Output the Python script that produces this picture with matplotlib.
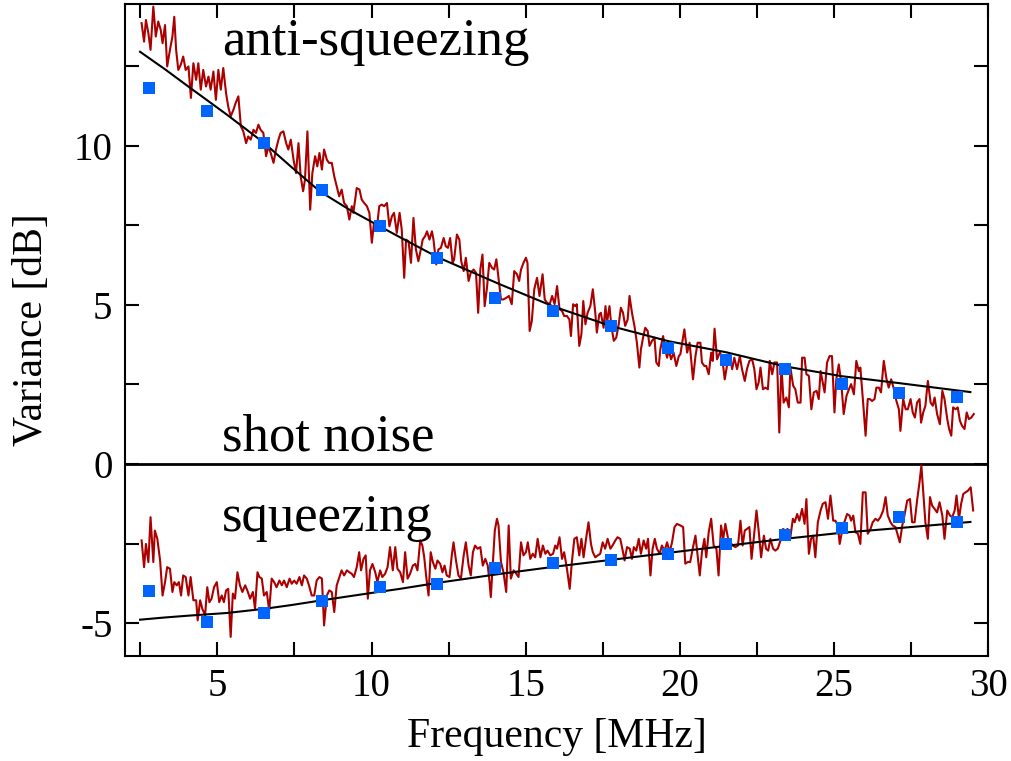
import numpy as np
import matplotlib
matplotlib.use('Agg')
import matplotlib.pyplot as plt
from matplotlib.ticker import MultipleLocator

plt.rcParams['font.family'] = ['Liberation Serif', 'DejaVu Serif']
plt.rcParams['axes.unicode_minus'] = False

anti_freq = [2.54, 2.62, 2.68, 2.76, 2.83, 2.92, 3.00, 3.08, 3.16, 3.22, 3.30, 3.37, 3.46, 3.54, 3.60,
             3.66, 3.73, 3.81, 3.89, 3.97, 4.06, 4.14, 4.22, 4.31, 4.38, 4.46, 4.54, 4.63, 4.71, 4.78,
             4.87, 4.95, 5.03, 5.11, 5.19, 5.28, 5.35, 5.43, 5.52, 5.59, 5.68, 5.76, 5.84, 5.93, 6.00,
             6.08, 6.17, 6.25, 6.33, 6.40, 6.49, 6.58, 6.65, 6.73, 6.82, 6.90, 6.98, 7.05, 7.14, 7.23,
             7.30, 7.38, 7.47, 7.55, 7.63, 7.70, 7.78, 7.84, 7.92, 8.01, 8.08, 8.17, 8.24, 8.31, 8.39,
             8.46, 8.55, 8.62, 8.71, 8.79, 8.87, 8.95, 9.03, 9.11, 9.20, 9.28, 9.36, 9.41, 9.52, 9.61,
             9.68, 9.76, 9.85, 9.93, 10.01, 10.08, 10.17, 10.25, 10.33, 10.41, 10.50, 10.58, 10.66,
             10.73, 10.82, 10.91,
             10.98, 11.06, 11.12, 11.20, 11.28, 11.36, 11.44, 11.52, 11.60, 11.66, 11.74, 11.80, 11.88,
             11.96, 12.01, 12.10, 12.17, 12.25, 12.34, 12.41, 12.48, 12.55, 12.63, 12.68, 12.77, 12.85,
             12.91, 12.99, 13.06, 13.15, 13.22, 13.31, 13.39, 13.46, 13.53, 13.60, 13.67, 13.74, 13.82,
             13.91, 13.98, 14.05, 14.12, 14.20, 14.28, 14.37, 14.46, 14.55, 14.63, 14.72, 14.79, 14.85,
             14.93, 15.01, 15.06, 15.13, 15.20, 15.28, 15.37, 15.45, 15.55, 15.62, 15.69, 15.78, 15.86,
             15.94, 16.02, 16.10, 16.18, 16.25, 16.34, 16.42, 16.47, 16.54, 16.61, 16.66, 16.74, 16.81,
             16.87, 16.94, 17.01, 17.10, 17.18, 17.26, 17.31, 17.39, 17.44, 17.53, 17.59, 17.64, 17.72,
             17.78, 17.86, 17.94, 18.02, 18.09, 18.16, 18.23, 18.31, 18.37, 18.45, 18.53, 18.61, 18.69,
             18.74, 18.81, 18.88, 18.96, 19.02, 19.10, 19.18, 19.24, 19.32, 19.37, 19.46, 19.53, 19.59,
             19.64, 19.72, 19.80, 19.89, 19.97,
             20.02, 20.15, 20.24, 20.32, 20.43, 20.51, 20.58, 20.67, 20.72, 20.80, 20.86, 20.94, 21.02,
             21.07, 21.13, 21.21, 21.30, 21.37, 21.46, 21.54, 21.62, 21.70, 21.77, 21.86, 21.95, 22.02,
             22.11, 22.18, 22.26, 22.35, 22.42, 22.49, 22.56, 22.62, 22.70, 22.78, 22.86, 22.92, 23.00,
             23.07, 23.16, 23.23, 23.30, 23.37, 23.46, 23.54, 23.59, 23.68, 23.75, 23.83, 23.92, 23.97,
             24.05, 24.11, 24.19, 24.27, 24.35, 24.44, 24.51, 24.57, 24.62, 24.70, 24.78, 24.86, 24.94,
             25.02, 25.08, 25.16, 25.24, 25.32, 25.41, 25.49, 25.56, 25.65, 25.73, 25.81, 25.86, 25.95,
             26.03, 26.10, 26.17, 26.24, 26.32, 26.38, 26.46, 26.53, 26.62, 26.71, 26.78, 26.86, 26.95,
             27.03, 27.11, 27.16, 27.25, 27.33, 27.40, 27.49, 27.56, 27.63, 27.70, 27.78, 27.83, 27.90,
             27.97, 28.05, 28.14, 28.21, 28.27, 28.35, 28.44, 28.52, 28.59, 28.68, 28.74, 28.81, 28.87,
             28.95, 29.02, 29.09, 29.16, 29.24, 29.31, 29.38, 29.46, 29.54]
anti_var = [13.85, 13.27, 13.95, 13.53, 13.01, 14.37, 13.43, 13.90, 13.64, 13.22, 13.79, 12.49, 13.01,
            13.43, 14.05, 13.01, 12.38, 12.54, 12.80, 12.38, 12.49, 11.50, 12.59, 12.07, 12.59, 11.76,
            12.38, 11.86, 12.17, 11.76, 12.33, 11.44, 12.38, 11.76, 12.44, 11.65, 11.23, 10.92, 11.13,
            11.34, 11.55, 10.61, 10.45, 10.08, 10.29, 10.19, 10.50, 10.40, 10.66, 10.50, 10.40, 9.67,
            9.98, 9.77, 9.46, 9.88, 10.19, 10.40, 10.45, 10.08, 9.88, 10.19, 9.56, 9.14, 10.08, 9.04,
            8.57, 8.93, 10.45, 7.99, 9.14, 9.67, 9.35, 9.77, 9.25, 9.88, 9.56, 9.46, 9.46, 9.04, 8.73,
            8.41, 8.62, 8.20, 8.10, 7.68, 8.10, 7.89, 8.67, 8.62, 8.31, 8.20, 8.10, 7.89, 6.95, 7.58,
            7.37, 8.10, 8.15, 8.10, 8.20, 7.47, 7.78, 7.89, 7.26, 7.89,
            7.37, 5.85, 7.05, 7.00, 6.32, 7.73, 6.74, 6.37, 6.74, 7.05, 7.16, 7.31, 7.05, 7.31, 7.05,
            6.27, 6.74, 6.79, 7.10, 6.84, 6.79, 7.10, 6.32, 6.43, 7.21, 7.05, 6.37, 6.06, 6.48, 5.75,
            6.01, 6.11, 6.01, 4.75, 6.11, 6.58, 4.96, 5.49, 6.32, 6.16, 6.11, 6.43, 5.85, 5.17, 5.17,
            5.22, 5.28, 5.02, 6.06, 5.96, 5.75, 6.11, 6.32, 6.48, 6.32, 4.18, 4.49, 5.49, 5.85, 5.28,
            5.96, 5.17, 5.07, 5.02, 5.28, 5.02, 5.59, 4.86, 4.81, 4.65, 4.65, 4.54, 4.02, 5.02, 4.96,
            5.02, 3.71, 4.08, 5.12, 4.39, 4.75, 4.96, 5.49, 4.75, 4.13, 4.70, 4.75, 4.28, 4.96, 4.44,
            4.96, 4.34, 3.87, 3.97, 4.39, 4.91, 4.75, 4.34, 4.54, 5.28, 4.75, 4.34, 3.81, 3.03, 3.60,
            3.97, 4.28, 4.18, 3.71, 3.87, 3.97, 3.19, 3.08, 3.60, 4.02, 3.60, 3.34, 3.60, 3.29, 3.50,
            3.08, 3.39,
            3.45, 4.23, 3.50, 3.81, 2.66, 3.39, 3.81, 3.81, 3.19, 3.08, 3.08, 2.82, 3.50, 3.24, 4.25,
            3.29, 3.50, 3.39, 2.66, 3.13, 3.45, 2.98, 3.34, 2.98, 3.39, 2.98, 2.61, 2.98, 3.24, 3.29,
            2.98, 2.35, 2.56, 3.03, 2.35, 2.40, 2.35, 3.24, 2.82, 3.19, 3.19, 0.99, 3.08, 1.93, 2.09,
            1.78, 3.03, 2.46, 2.35, 1.93, 1.93, 3.34, 3.34, 2.82, 2.77, 1.72, 2.25, 2.30, 2.04, 2.92,
            2.66, 2.25, 3.19, 3.39, 3.39, 1.62, 2.66, 3.13, 2.56, 1.57, 2.14, 2.35, 2.51, 2.19, 3.24,
            2.92, 3.03, 1.93, 0.89, 2.04, 2.04, 1.98, 2.04, 2.40, 2.40, 2.25, 3.24, 2.66, 2.40, 2.66,
            2.35, 1.98, 1.72, 1.04, 2.04, 1.72, 1.72, 2.04, 1.62, 1.46, 1.93, 2.04, 1.30, 1.62, 1.83,
            2.61, 1.93, 1.83, 2.09, 1.57, 1.25, 2.30, 2.04, 1.41, 1.10, 0.89, 1.78, 1.72, 1.78, 1.36,
            1.20, 1.10, 1.62, 1.41, 1.46, 1.57]

sq_freq = [2.54, 2.62, 2.68, 2.76, 2.83, 2.92, 2.97, 3.05, 3.14, 3.22, 3.30, 3.37, 3.46, 3.54, 3.60,
           3.68, 3.75, 3.82, 3.89, 3.97, 4.06, 4.13, 4.22, 4.31, 4.36, 4.44, 4.51, 4.60, 4.67, 4.74,
           4.81, 4.89, 4.98, 5.06, 5.14, 5.21, 5.28, 5.35, 5.43, 5.50, 5.57, 5.65, 5.73, 5.81, 5.90,
           5.97, 6.06, 6.15, 6.22, 6.30, 6.36, 6.44, 6.51, 6.60, 6.68, 6.76, 6.84, 6.92, 7.01, 7.09,
           7.16, 7.25, 7.34, 7.41, 7.49, 7.57, 7.66, 7.74, 7.81, 7.90, 7.97, 8.06, 8.14, 8.22, 8.31,
           8.39, 8.46, 8.55, 8.63, 8.71, 8.79, 8.87, 8.96, 9.03, 9.11, 9.20, 9.28, 9.36, 9.43, 9.52,
           9.60, 9.66, 9.74, 9.81, 9.88, 9.95, 10.03, 10.12, 10.19, 10.28, 10.35, 10.44, 10.52, 10.60,
           10.69, 10.77, 10.84,
           10.93, 11.02, 11.09, 11.17, 11.25, 11.34, 11.42, 11.49, 11.58, 11.65, 11.71, 11.77, 11.85,
           11.92, 11.99, 12.07, 12.14, 12.23, 12.30, 12.37, 12.44, 12.53, 12.61, 12.66, 12.74, 12.82,
           12.90, 12.99, 13.06, 13.15, 13.22, 13.29, 13.36, 13.44, 13.53, 13.61, 13.69, 13.77, 13.83,
           13.87, 13.94, 14.00, 14.07, 14.12, 14.20, 14.28, 14.37, 14.45, 14.52, 14.61, 14.70, 14.77,
           14.85, 14.93, 15.01, 15.07, 15.15, 15.23, 15.31, 15.39, 15.48, 15.56, 15.64, 15.71, 15.80,
           15.89, 15.96, 16.02, 16.10, 16.18, 16.25, 16.34, 16.43, 16.50, 16.58, 16.66, 16.74, 16.81,
           16.88, 16.96, 17.04, 17.12, 17.18, 17.26, 17.34, 17.42, 17.50, 17.58, 17.66, 17.75, 17.82,
           17.91, 17.98, 18.07, 18.15, 18.21, 18.29, 18.38, 18.45, 18.51, 18.59, 18.67, 18.74, 18.83,
           18.91, 18.97, 19.05, 19.12, 19.19, 19.26, 19.35, 19.42, 19.51, 19.59, 19.67, 19.75, 19.83,
           19.91,
           20.02, 20.11, 20.18, 20.26, 20.34, 20.42, 20.51, 20.58, 20.65, 20.72, 20.80, 20.86, 20.94,
           21.02, 21.10, 21.19, 21.26, 21.34, 21.41, 21.48, 21.57, 21.64, 21.72, 21.81, 21.89, 21.97,
           22.04, 22.11, 22.18, 22.26, 22.33, 22.40, 22.49, 22.56, 22.64, 22.73, 22.80, 22.87, 22.94,
           23.03, 23.10, 23.18, 23.27, 23.35, 23.43, 23.50, 23.59, 23.67, 23.73, 23.81, 23.88, 23.97,
           24.05, 24.11, 24.19, 24.26, 24.33, 24.40, 24.48, 24.57, 24.64, 24.73, 24.81, 24.89, 24.98,
           25.05, 25.13, 25.19, 25.27, 25.34, 25.43, 25.51, 25.56, 25.63, 25.70, 25.78, 25.86, 25.94,
           26.03, 26.10, 26.19, 26.26, 26.35, 26.43, 26.51, 26.60, 26.68, 26.75, 26.84, 26.91, 27.00,
           27.08, 27.14, 27.22, 27.29, 27.38, 27.47, 27.54, 27.62, 27.70, 27.78, 27.84, 27.90, 27.97,
           28.05, 28.12, 28.19, 28.27, 28.35, 28.43, 28.52, 28.59, 28.68, 28.77, 28.84, 28.92, 28.98,
           29.06, 29.13, 29.20, 29.27, 29.35, 29.44, 29.52]
sq_var = [-2.40, -3.24, -2.51, -3.08, -1.67, -3.08, -2.09, -2.35, -3.03, -4.13, -3.71, -3.24, -3.29,
          -4.02, -3.71, -3.81, -3.71, -4.13, -3.50, -3.55, -4.13, -3.55, -4.28, -4.28, -4.91, -4.28,
          -4.55, -4.75, -3.87, -4.34, -4.23, -3.87, -3.71, -4.34, -4.13, -4.34, -3.97, -3.92, -5.43,
          -4.07, -4.23, -3.40, -3.81, -4.02, -3.81, -3.97, -4.23, -4.02, -4.55, -3.40, -3.55, -3.60,
          -4.13, -4.02, -4.60, -3.60, -3.71, -3.87, -3.66, -3.81, -3.66, -3.87, -3.60, -3.76, -3.66,
          -3.76, -3.55, -3.81, -3.50, -3.60, -3.81, -4.13, -4.13, -3.66, -3.55, -3.60, -5.07, -4.13,
          -3.97, -4.02, -4.65, -3.81, -3.55, -3.34, -3.50, -3.34, -3.40, -3.45, -3.55, -3.24, -2.77,
          -3.34, -2.98, -2.87, -4.23, -3.34, -3.14, -3.40, -3.71, -3.34, -3.55, -3.45, -3.24, -2.61,
          -3.34, -2.61, -3.29,
          -3.40, -3.71, -2.77, -3.60, -3.45, -3.19, -3.14, -3.34, -2.40, -2.56, -2.93, -3.50, -4.13,
          -2.77, -3.08, -3.29, -3.03, -3.14, -3.40, -3.19, -3.50, -3.55, -2.82, -2.46, -3.03, -3.50,
          -3.60, -2.87, -2.46, -3.19, -3.50, -2.77, -2.56, -2.66, -2.61, -3.19, -2.98, -3.19, -3.71,
          -4.18, -3.08, -2.09, -1.72, -1.93, -3.08, -3.40, -4.02, -1.93, -3.60, -3.34, -3.45, -3.55,
          -2.46, -2.87, -2.77, -2.46, -2.98, -2.82, -2.93, -2.35, -2.93, -2.56, -2.82, -2.72, -2.87,
          -2.82, -2.56, -2.66, -2.30, -2.98, -2.77, -3.29, -3.92, -3.08, -2.35, -2.30, -2.87, -2.35,
          -2.93, -2.35, -1.83, -2.51, -2.77, -2.93, -2.87, -2.82, -2.46, -2.66, -2.35, -2.66, -2.56,
          -2.40, -2.30, -2.35, -2.72, -3.03, -2.61, -2.66, -2.98, -2.61, -2.72, -2.35, -2.82, -2.40,
          -2.66, -2.35, -3.50, -2.66, -2.35, -2.66, -2.82, -2.56, -2.72, -2.46, -2.77, -2.46, -1.98,
          -1.88,
          -1.93, -1.98, -3.13, -3.08, -3.08, -2.66, -2.25, -2.87, -3.50, -2.77, -2.35, -2.93, -2.14,
          -1.72, -2.56, -2.66, -3.50, -1.93, -2.35, -1.88, -2.35, -2.46, -2.56, -2.61, -2.56, -1.78,
          -2.56, -2.09, -2.04, -1.98, -2.98, -2.35, -1.46, -2.09, -2.93, -2.25, -2.66, -2.72, -2.35,
          -2.66, -2.72, -2.66, -2.40, -2.04, -2.09, -2.04, -2.30, -1.72, -1.83, -1.57, -1.78, -1.41,
          -1.88, -1.10, -2.82, -2.35, -2.25, -2.93, -1.83, -1.46, -1.25, -1.20, -1.72, -0.99, -1.78,
          -1.78, -1.93, -2.51, -2.09, -1.83, -1.57, -1.62, -1.78, -1.62, -2.14, -2.19, -2.51, -0.89,
          -0.89, -2.19, -2.04, -1.83, -1.72, -1.78, -1.67, -1.46, -1.04, -1.62, -1.83, -1.93, -1.98,
          -2.25, -2.46, -1.93, -1.62, -1.15, -1.10, -1.83, -1.83, -1.15, -0.57, -0.05, -0.89, -1.83,
          -2.35, -1.04, -1.31, -1.41, -1.52, -1.20, -1.62, -2.35, -1.46, -1.62, -1.67, -1.46, -0.99,
          -1.72, -1.25, -0.94, -0.89, -0.84, -0.73, -1.46]

# ---- averaged points (blue squares) ----
pt_freq = [2.78, 4.66, 6.51, 8.40, 10.28, 12.13, 14.01, 15.90, 17.78, 19.63, 21.51, 23.40, 25.25,
           27.13, 29.00]
pt_anti = [11.82, 11.10, 10.09, 8.62, 7.49, 6.46, 5.20, 4.80, 4.33, 3.64, 3.26, 3.00, 2.50, 2.23, 2.10]
pt_sq = [-3.98, -4.95, -4.67, -4.29, -3.86, -3.76, -3.26, -3.10, -3.01, -2.82, -2.51, -2.23, -2.01,
         -1.66, -1.82]

# ---- theory curves (black) ----
fit_freq = [2.49, 3.30, 4.11, 5.30, 6.51, 7.40, 8.33, 9.30, 10.28, 10.93, 12.16, 14.18, 15.90, 17.78,
            19.63, 21.51, 23.40, 25.25, 27.13, 29.43]
fit_anti = [12.95, 12.40, 11.82, 10.98, 10.09, 9.33, 8.56, 7.98, 7.46, 7.12, 6.49, 5.64, 4.95, 4.33,
            3.86, 3.51, 3.07, 2.76, 2.54, 2.26]
fit_sq = [-4.89, -4.82, -4.76, -4.68, -4.55, -4.43, -4.29, -4.15, -4.01, -3.92, -3.73, -3.45, -3.23,
          -3.01, -2.79, -2.57, -2.35, -2.16, -2.01, -1.82]

RED = '#aa0000'
BLUE = '#0064ff'

fig = plt.figure(figsize=(10.11, 7.61), dpi=100)
ax = fig.add_axes([0.1236, 0.138, 0.8536, 0.8567])

ax.axhline(0, color='black', lw=2.0, zorder=1)
ax.plot(anti_freq, anti_var, color=RED, lw=1.5, zorder=2)
ax.plot(sq_freq, sq_var, color=RED, lw=1.5, zorder=2)
ax.plot(fit_freq, fit_anti, color='black', lw=1.5, zorder=3)
ax.plot(fit_freq, fit_sq, color='black', lw=1.5, zorder=3)
ax.plot(pt_freq, pt_anti, 's', color=BLUE, ms=9.3, mew=0, zorder=4)
ax.plot(pt_freq, pt_sq, 's', color=BLUE, ms=9.3, mew=0, zorder=4)

ax.text(5.15, 12.85, 'anti-squeezing', fontsize=38, ha='left', va='baseline')
ax.text(5.15, 0.41, 'shot noise', fontsize=38, ha='left', va='baseline')
ax.text(5.15, -2.1, 'squeezing', fontsize=38, ha='left', va='baseline')

ax.set_xlim(2, 30)
ax.set_ylim(-6.03, 14.45)
ax.xaxis.set_major_locator(MultipleLocator(5))
ax.xaxis.set_minor_locator(MultipleLocator(2.5))
ax.yaxis.set_major_locator(MultipleLocator(5))
ax.yaxis.set_minor_locator(MultipleLocator(2.5))
ax.tick_params(which='both', direction='in', top=True, right=True, length=10, width=1.5,
               labelsize=28)
ax.tick_params(axis='x', pad=9)
ax.tick_params(axis='y', pad=9)
for s in ax.spines.values():
    s.set_linewidth(1.5)

ax.set_xlabel('Frequency [MHz]', fontsize=30, labelpad=9)
ax.set_ylabel('Variance [dB]', fontsize=30, labelpad=16)

fig.savefig('out.png', dpi=100)
